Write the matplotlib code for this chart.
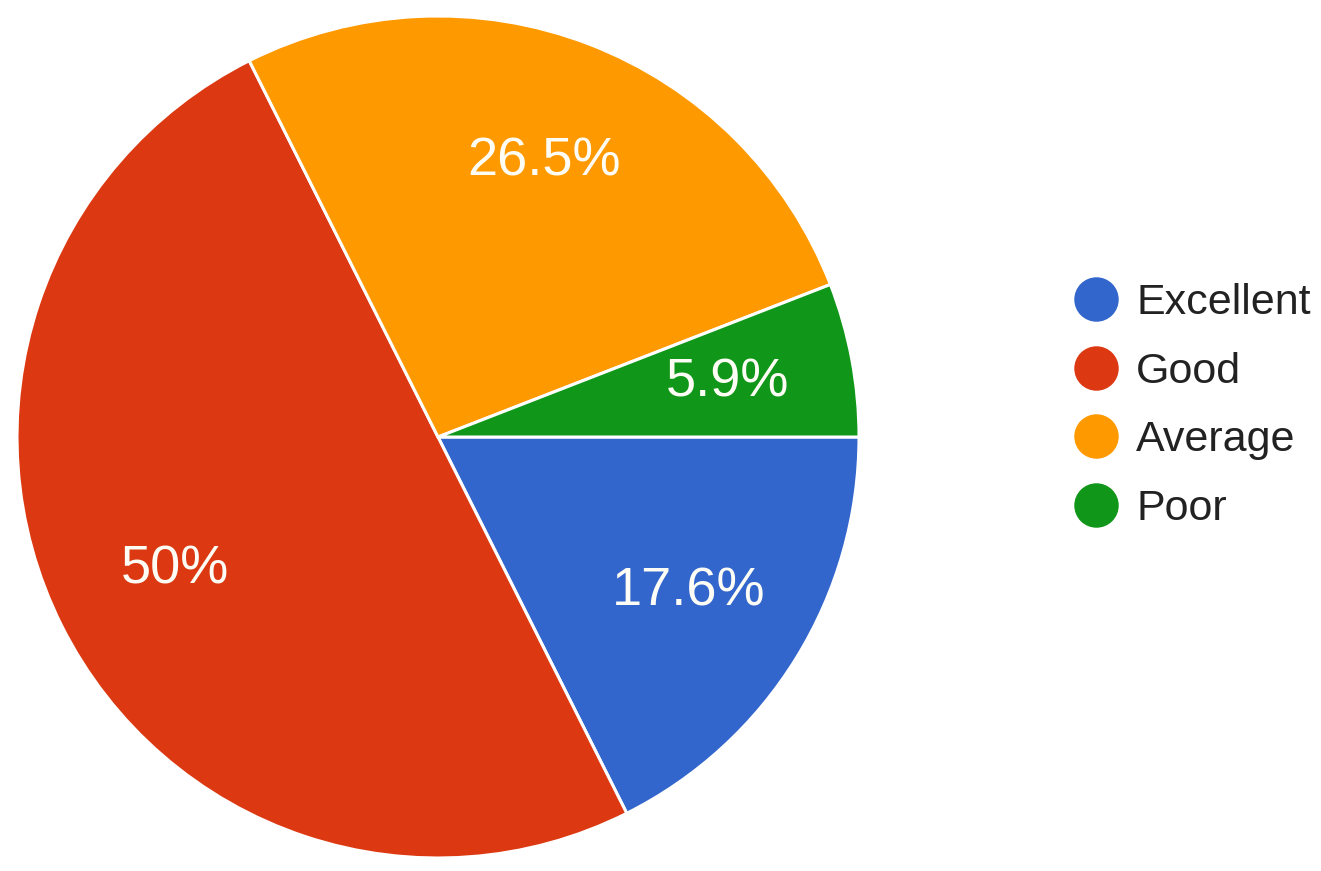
import matplotlib.pyplot as plt
from matplotlib.lines import Line2D

categories = ['Excellent', 'Good', 'Average', 'Poor']
shares = [17.6, 50.0, 26.5, 5.9]
colors = ['#3366cc', '#dc3912', '#ff9900', '#109618']

plt.rcParams['font.family'] = ['Liberation Sans', 'DejaVu Sans']

W, H = 1321, 871
fig = plt.figure(figsize=(W / 100, H / 100), dpi=100)

# pie centre (438, 437) px, radius 421 px
cx, cy, r = 438, 437, 421
ax = fig.add_axes([(cx - r) / W, (H - cy - r) / H, 2 * r / W, 2 * r / H])


def fmt(p):
    s = f'{p:.1f}'
    return (s[:-2] if s.endswith('.0') else s) + '%'


wedges, _, autotexts = ax.pie(
    shares, colors=colors, startangle=0, counterclock=False,
    autopct=fmt, pctdistance=0.7, radius=1.0,
    wedgeprops=dict(edgecolor='white', linewidth=2.2),
    textprops=dict(color='#fdfdf5', fontsize=39))
ax.set_xlim(-1, 1)
ax.set_ylim(-1, 1)
ax.set_aspect('equal')

handles = [Line2D([], [], marker='o', linestyle='none', markersize=31,
                  markerfacecolor=c, markeredgecolor=c) for c in colors]
fig.legend(handles, categories, loc='center left',
           bbox_to_anchor=(1076 / W, 1 - 406 / H), frameon=False,
           fontsize=31, handlelength=0.95, handletextpad=0.45,
           labelspacing=0.66, borderpad=0, borderaxespad=0,
           labelcolor='#222222')

fig.savefig('out.png', dpi=100, facecolor='white')
